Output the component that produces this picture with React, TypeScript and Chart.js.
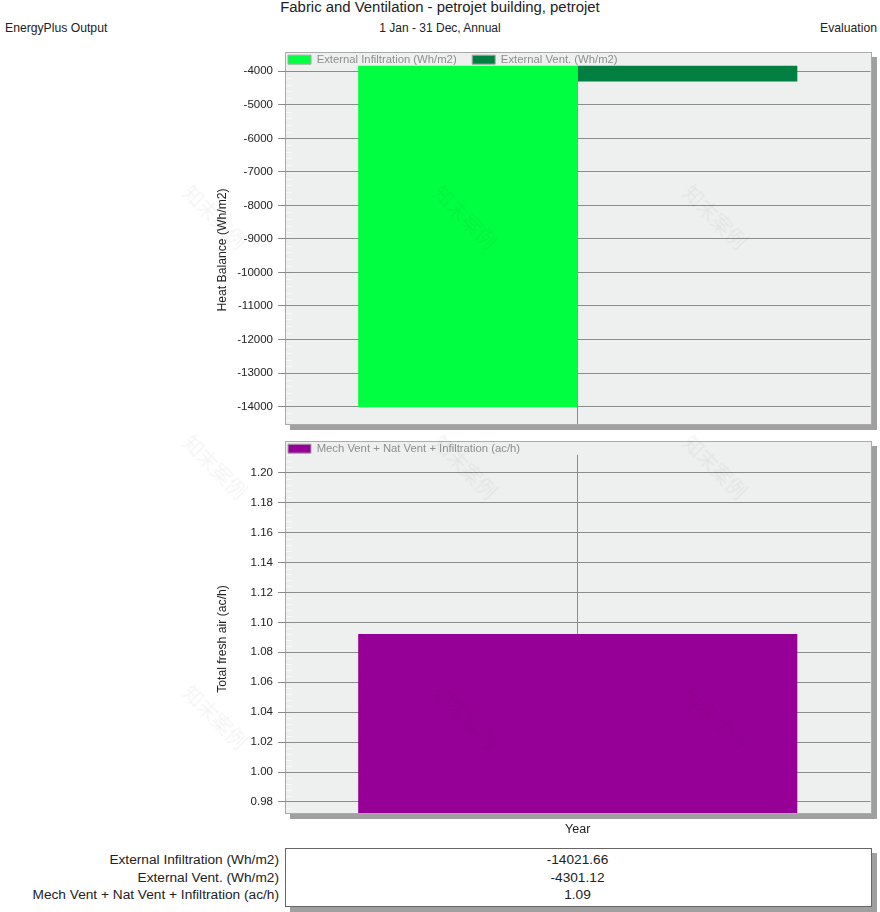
import { useEffect, useRef, type CSSProperties } from "react";
import { Chart, registerables, type ChartOptions, type Plugin } from "chart.js";

Chart.register(...registerables);

const FONT = '"Liberation Sans", Arial, sans-serif';

const categories = ["Year"];
const infiltrationLabel = "External Infiltration (Wh/m2)";
const ventLabel = "External Vent. (Wh/m2)";
const freshAirLabel = "Mech Vent + Nat Vent + Infiltration (ac/h)";
const infiltrationValues = [-14021.66];
const ventValues = [-4301.12];
const freshAirValues = [1.0923];
const heatTicks = [
  -14000, -13000, -12000, -11000, -10000, -9000, -8000, -7000, -6000, -5000, -4000,
];
const freshAirTicks = [0.98, 1.0, 1.02, 1.04, 1.06, 1.08, 1.1, 1.12, 1.14, 1.16, 1.18, 1.2];
const watermarkX = [215, 465, 715];
const watermarkY = [217, 467, 717];

// little pale ticks just inside the left edge of the plot
const minorTicks: Plugin<"bar"> = {
  id: "minorTicks",
  beforeDatasetsDraw(chart) {
    const { ctx, chartArea, scales } = chart;
    const y = scales.y;
    const step = y.ticks.length > 1 ? (y.ticks[1].value - y.ticks[0].value) / 5 : 0;
    if (!step) return;
    ctx.save();
    ctx.strokeStyle = "#f9f9f9";
    ctx.lineWidth = 1;
    for (const t of y.ticks) {
      for (let i = -4; i < 5; i++) {
        if (i === 0) continue;
        const py = Math.round(y.getPixelForValue(t.value + i * step)) + 0.5;
        if (py < chartArea.top || py > chartArea.bottom) continue;
        ctx.beginPath();
        ctx.moveTo(chartArea.left + 1, py);
        ctx.lineTo(chartArea.left + 7, py);
        ctx.stroke();
      }
    }
    ctx.restore();
  },
};

// the legend reserves 10px more than the band it sits in here, padding.top takes
// that back and this puts the legend itself down again
const legendBand: Plugin<"bar"> = {
  id: "legendBand",
  afterLayout(chart) {
    const legend = (chart as any).legend;
    if (legend) legend.top += 9.5;
  },
};

function options(
  yTitle: string,
  min: number,
  max: number,
  tickValues: number[],
  digits: number,
  xHeight: number,
  showX: boolean,
): ChartOptions<"bar"> {
  return {
    animation: false,
    responsive: false,
    layout: { padding: { left: 215, right: 9.5, top: -10.5, bottom: 0 } },
    plugins: {
      tooltip: { enabled: false },
      legend: {
        position: "top",
        align: "start",
        fullSize: false,
        labels: {
          boxWidth: 23,
          boxHeight: 9,
          padding: 3,
          font: { family: FONT, size: 11.3 },
          generateLabels(chart) {
            return chart.data.datasets.map((d, i) => ({
              text: (d.label as string) + "    ",
              fillStyle: d.backgroundColor as string,
              strokeStyle: "#a6a6a6",
              fontColor: "#8e8e8e",
              lineWidth: 1,
              datasetIndex: i,
            }));
          },
        },
      },
    },
    scales: {
      x: {
        afterFit: (s) => {
          s.height = xHeight;
        },
        grid: { color: "#8c8c8c", drawTicks: false, offset: false },
        border: { display: false },
        ticks: {
          display: showX,
          color: "#222",
          padding: 9,
          font: { family: FONT, size: 12.5 },
        },
      },
      y: {
        min,
        max,
        afterBuildTicks: (s) => {
          s.ticks = tickValues.map((value) => ({ value }));
        },
        afterFit: (s) => {
          s.width = 70;
        },
        title: {
          display: true,
          // trailing spaces push the rotated title a few px down, as in the original
          text: yTitle + "   ",
          color: "#222",
          padding: 0,
          font: { family: FONT, size: 12.2 },
        },
        grid: { color: "#8c8c8c", tickColor: "#8c8c8c", tickLength: 7 },
        border: { display: false },
        ticks: {
          autoSkip: false,
          padding: 5,
          color: "#222",
          font: { family: FONT, size: 11.5 },
          callback: (v) => Number(v).toFixed(digits),
        },
      },
    },
  };
}

function HeatBalanceChart() {
  const ref = useRef<HTMLCanvasElement>(null);
  useEffect(() => {
    if (!ref.current) return;
    const chart = new Chart(ref.current, {
      type: "bar",
      data: {
        labels: categories,
        datasets: [
          {
            label: infiltrationLabel,
            data: infiltrationValues,
            backgroundColor: "#00ff41",
            barPercentage: 1,
            categoryPercentage: 0.75,
          },
          {
            label: ventLabel,
            data: ventValues,
            backgroundColor: "#007f41",
            barPercentage: 1,
            categoryPercentage: 0.75,
          },
        ],
      },
      options: options("Heat Balance (Wh/m2)", -14520, -3836, heatTicks, 0, 12, false),
      plugins: [minorTicks, legendBand],
    });
    return () => chart.destroy();
  }, []);
  return (
    <canvas
      ref={ref}
      width={880}
      height={384}
      style={{ position: "absolute", left: 0, top: 52 }}
    />
  );
}

function FreshAirChart() {
  const ref = useRef<HTMLCanvasElement>(null);
  useEffect(() => {
    if (!ref.current) return;
    const chart = new Chart(ref.current, {
      type: "bar",
      data: {
        labels: categories,
        datasets: [
          {
            label: freshAirLabel,
            data: freshAirValues,
            backgroundColor: "#970096",
            barPercentage: 1,
            categoryPercentage: 0.75,
          },
        ],
      },
      options: options("Total fresh air (ac/h)", 0.9726, 1.212, freshAirTicks, 2, 27, true),
      plugins: [minorTicks, legendBand],
    });
    return () => chart.destroy();
  }, []);
  return (
    <canvas
      ref={ref}
      width={880}
      height={399}
      style={{ position: "absolute", left: 0, top: 441 }}
    />
  );
}

const text: CSSProperties = {
  position: "absolute",
  fontFamily: FONT,
  color: "#222",
  whiteSpace: "nowrap",
  lineHeight: 1,
};

const frame: CSSProperties = {
  position: "absolute",
  left: 285,
  width: 585,
  background: "#eeefef",
  border: "1px solid #ababab",
  boxShadow: "5px 5px 0 #a0a0a0",
};

const tableRows = [
  { label: infiltrationLabel, value: infiltrationValues[0] },
  { label: ventLabel, value: ventValues[0] },
  { label: freshAirLabel, value: freshAirValues[0] },
];
const tableRowY = [853, 870.5, 888];

export default function App() {
  return (
    <div
      style={{
        position: "absolute",
        left: 0,
        top: 0,
        width: 880,
        height: 912,
        overflow: "hidden",
        background: "#fff",
      }}
    >
      <div style={{ ...text, left: 0, width: 880, top: 0, textAlign: "center", fontSize: 14.9 }}>
        Fabric and Ventilation - petrojet building, petrojet
      </div>
      <div style={{ ...text, left: 0, width: 880, top: 22, textAlign: "center", fontSize: 12 }}>
        1 Jan - 31 Dec, Annual
      </div>
      <div style={{ ...text, left: 5, top: 22, fontSize: 12.2 }}>EnergyPlus Output</div>
      <div style={{ ...text, right: 3, top: 22, fontSize: 12.2 }}>Evaluation</div>

      <div style={{ ...frame, top: 52, height: 371 }} />
      <div style={{ ...frame, top: 441, height: 371 }} />
      <HeatBalanceChart />
      <FreshAirChart />

      <div
        style={{
          position: "absolute",
          left: 285,
          top: 848,
          width: 585,
          height: 57,
          background: "#fff",
          border: "1px solid #666",
          boxShadow: "5px 5px 0 #a0a0a0",
        }}
      />
      {tableRows.map((r, i) => (
        <div key={r.label}>
          <div style={{ ...text, right: 601, top: tableRowY[i], fontSize: 13.7 }}>{r.label}</div>
          <div
            style={{
              ...text,
              left: 285,
              width: 585,
              top: tableRowY[i],
              textAlign: "center",
              fontSize: 13.7,
            }}
          >
            {r.value.toFixed(2)}
          </div>
        </div>
      ))}

      {watermarkY.map((y) =>
        watermarkX.map((x) => (
          <div
            key={`${x}-${y}`}
            style={{
              ...text,
              left: x - 50,
              top: y - 10,
              width: 100,
              textAlign: "center",
              fontFamily: '"Noto Sans CJK SC", sans-serif',
              fontSize: 20,
              color: "rgba(0,0,0,0.045)",
              transform: "rotate(45deg)",
              pointerEvents: "none",
            }}
          >
            知末案例
          </div>
        )),
      )}
    </div>
  );
}
